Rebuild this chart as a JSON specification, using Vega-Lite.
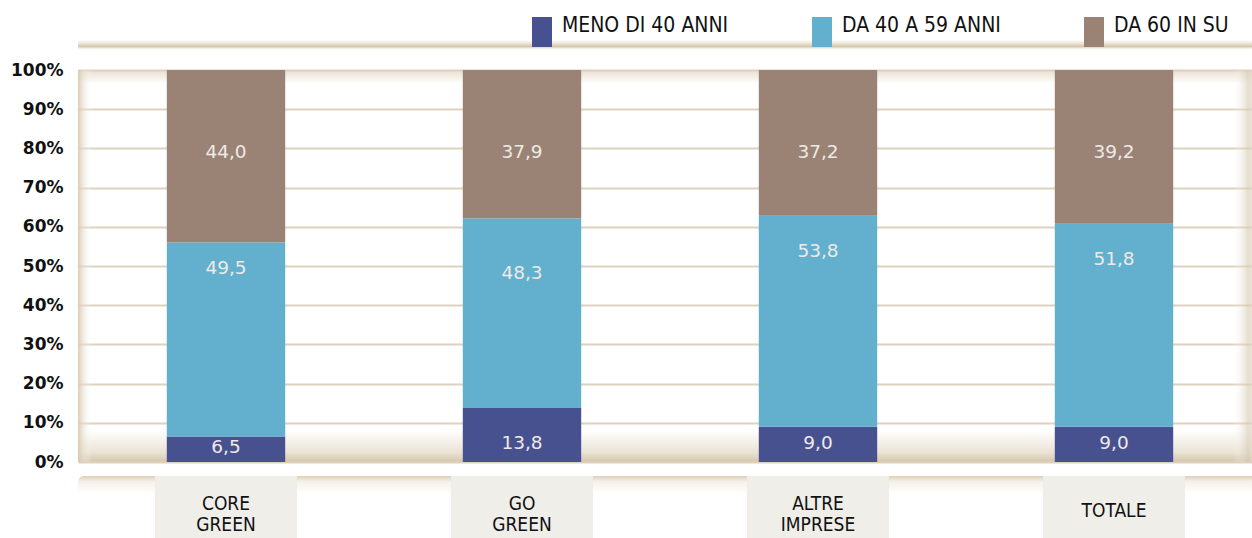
{
  "$schema": "https://vega.github.io/schema/vega-lite/v6.json",
  "padding": {"left": 10, "top": 17, "right": 0, "bottom": 0},
  "background": "#ffffff",
  "spacing": 6,
  "config": {
    "view": {"stroke": null}
  },
  "datasets": {
    "eta": [
      {"cat": "CORE GREEN", "fascia": "MENO DI 40 ANNI", "v": 6.5},
      {"cat": "CORE GREEN", "fascia": "DA 40 A 59 ANNI", "v": 49.5},
      {"cat": "CORE GREEN", "fascia": "DA 60 IN SU", "v": 44.0},
      {"cat": "GO GREEN", "fascia": "MENO DI 40 ANNI", "v": 13.8},
      {"cat": "GO GREEN", "fascia": "DA 40 A 59 ANNI", "v": 48.3},
      {"cat": "GO GREEN", "fascia": "DA 60 IN SU", "v": 37.9},
      {"cat": "ALTRE IMPRESE", "fascia": "MENO DI 40 ANNI", "v": 9.0},
      {"cat": "ALTRE IMPRESE", "fascia": "DA 40 A 59 ANNI", "v": 53.8},
      {"cat": "ALTRE IMPRESE", "fascia": "DA 60 IN SU", "v": 37.2},
      {"cat": "TOTALE", "fascia": "MENO DI 40 ANNI", "v": 9.0},
      {"cat": "TOTALE", "fascia": "DA 40 A 59 ANNI", "v": 51.8},
      {"cat": "TOTALE", "fascia": "DA 60 IN SU", "v": 39.2}
    ],
    "cats": [
      {"cat": "CORE GREEN"},
      {"cat": "GO GREEN"},
      {"cat": "ALTRE IMPRESE"},
      {"cat": "TOTALE"}
    ],
    "one": [{"a": 1}]
  },
  "vconcat": [
    {
      "width": 1174,
      "height": 17,
      "data": {"name": "one"},
      "mark": {
        "type": "rect",
        "fill": {
          "gradient": "linear", "x1": 0, "y1": 0, "x2": 0, "y2": 1,
          "stops": [
            {"offset": 0, "color": "#ffffff"},
            {"offset": 0.12, "color": "#ffffff"},
            {"offset": 0.35, "color": "#e9e0d0"},
            {"offset": 0.52, "color": "#d3c4a8"},
            {"offset": 0.58, "color": "#f1ebe1"},
            {"offset": 0.7, "color": "#ffffff"},
            {"offset": 1, "color": "#ffffff"}
          ]
        }
      },
      "encoding": {}
    },
    {
      "width": 1184,
      "height": 392,
      "view": {
        "fill": {
          "gradient": "linear", "x1": 0, "y1": 0, "x2": 0, "y2": 1,
          "stops": [
            {"offset": 0, "color": "#e8dfcf"},
            {"offset": 0.035, "color": "#ffffff"},
            {"offset": 0.92, "color": "#ffffff"},
            {"offset": 0.975, "color": "#ebe3d5"},
            {"offset": 1, "color": "#d5c6ab"}
          ]
        },
        "stroke": null
      },
      "data": {"name": "eta"},
      "transform": [
        {"calculate": "indexof(['MENO DI 40 ANNI','DA 40 A 59 ANNI','DA 60 IN SU'], datum.fascia)", "as": "k"},
        {"calculate": "replace(format(datum.v, '.1f'), '.', ',')", "as": "lab"},
        {"calculate": "datum.k == 2 ? 79 : (datum.k == 1 ? datum.v : min(datum.v / 2 + 0.5, 4.8))", "as": "ly"}
      ],
      "layer": [
        {
          "data": {"name": "one"},
          "mark": {
            "type": "rect",
            "fill": {
              "gradient": "linear", "x1": 0, "y1": 0, "x2": 1, "y2": 0,
              "stops": [
                {"offset": 0, "color": "rgba(214,200,174,0.9)"},
                {"offset": 0.012, "color": "rgba(255,255,255,0)"},
                {"offset": 0.975, "color": "rgba(255,255,255,0)"},
                {"offset": 0.988, "color": "rgba(214,200,174,0.6)"},
                {"offset": 1, "color": "rgba(255,255,255,1)"}
              ]
            }
          },
          "encoding": {}
        },
        {
          "mark": {"type": "bar"},
          "encoding": {
            "x": {
              "field": "cat", "type": "nominal",
              "sort": ["CORE GREEN", "GO GREEN", "ALTRE IMPRESE", "TOTALE"],
              "scale": {"paddingInner": 0.6, "paddingOuter": 0.3},
              "axis": null
            },
            "y": {
              "field": "v", "type": "quantitative", "stack": "zero",
              "scale": {"domain": [0, 100], "nice": false},
              "axis": {
                "values": [0, 10, 20, 30, 40, 50, 60, 70, 80, 90, 100],
                "labelExpr": "datum.value + '%'",
                "labelFont": "DejaVu Sans",
                "labelFontWeight": "bold",
                "labelFontSize": 17,
                "labelColor": "#111111",
                "labelPadding": 15,
                "labelOverlap": false,
                "ticks": false,
                "domain": false,
                "grid": true,
                "gridColor": "#ddd2bf",
                "gridWidth": 2,
                "title": null
              }
            },
            "color": {
              "field": "fascia", "type": "nominal",
              "scale": {
                "domain": ["MENO DI 40 ANNI", "DA 40 A 59 ANNI", "DA 60 IN SU"],
                "range": ["#48518f", "#62b0cd", "#9a8374"]
              },
              "legend": {
                "orient": "none",
                "legendX": 449,
                "legendY": -21,
                "direction": "horizontal",
                "title": null,
                "symbolType": "M-0.667,-1H0.667V1H-0.667Z",
                "symbolSize": 900,
                "symbolStrokeWidth": 0,
                "symbolOpacity": 1,
                "labelFont": "DejaVu Sans Condensed",
                "labelFontSize": 21,
                "labelColor": "#111111",
                "labelBaseline": "alphabetic",
                "labelOffset": 5,
                "labelLimit": 400,
                "columnPadding": 78
              }
            },
            "order": {"field": "k", "type": "quantitative"}
          }
        },
        {
          "mark": {"type": "text", "font": "DejaVu Sans", "fontSize": 18.5, "color": "#eeeae6", "baseline": "middle"},
          "encoding": {
            "x": {
              "field": "cat", "type": "nominal",
              "sort": ["CORE GREEN", "GO GREEN", "ALTRE IMPRESE", "TOTALE"]
            },
            "y": {
              "field": "ly", "type": "quantitative", "stack": null,
              "axis": {
                "values": [0, 10, 20, 30, 40, 50, 60, 70, 80, 90, 100],
                "labelExpr": "datum.value + '%'",
                "labelFont": "DejaVu Sans",
                "labelFontWeight": "bold",
                "labelFontSize": 17,
                "labelColor": "#111111",
                "labelPadding": 15,
                "labelOverlap": false,
                "ticks": false,
                "domain": false,
                "grid": true,
                "gridColor": "#ddd2bf",
                "gridWidth": 2,
                "title": null
              }
            },
            "text": {"field": "lab"}
          }
        }
      ]
    },
    {
      "width": 1184,
      "height": 70,
      "view": {
        "fill": {
          "gradient": "linear", "x1": 0, "y1": 0, "x2": 0, "y2": 1,
          "stops": [
            {"offset": 0, "color": "#dccfb9"},
            {"offset": 0.08, "color": "#f5f0e9"},
            {"offset": 0.25, "color": "#ffffff"},
            {"offset": 1, "color": "#ffffff"}
          ]
        },
        "stroke": null,
        "cornerRadius": 6
      },
      "data": {"name": "cats"},
      "transform": [
        {"calculate": "split(datum.cat, ' ')", "as": "lines"}
      ],
      "layer": [
        {
          "mark": {"type": "rect", "width": 142, "fill": "#efeee9"},
          "encoding": {
            "x": {
              "field": "cat", "type": "nominal",
              "sort": ["CORE GREEN", "GO GREEN", "ALTRE IMPRESE", "TOTALE"],
              "scale": {"paddingInner": 0.6, "paddingOuter": 0.3},
              "axis": null
            }
          }
        },
        {
          "mark": {
            "type": "text", "font": "DejaVu Sans Condensed", "fontSize": 19, "color": "#111111",
            "baseline": "middle", "lineHeight": 21,
            "dy": {"expr": "length(datum.lines) > 1 ? -7 : 0"}
          },
          "encoding": {
            "x": {
              "field": "cat", "type": "nominal",
              "sort": ["CORE GREEN", "GO GREEN", "ALTRE IMPRESE", "TOTALE"]
            },
            "text": {"field": "lines"}
          }
        }
      ]
    }
  ]
}
